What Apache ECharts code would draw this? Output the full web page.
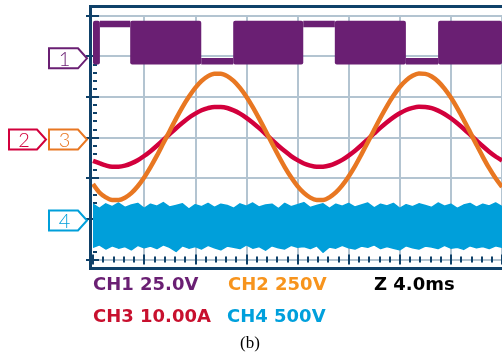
<!DOCTYPE html>
<html><head><meta charset="utf-8">
<script src="https://cdn.jsdelivr.net/npm/echarts@6/dist/echarts.min.js"></script>
<style>html,body{margin:0;padding:0;background:#fff}#c{width:502px;height:361px}</style>
</head><body><div id="c"></div>
<script>
// ---- data (time in ms, 4 ms/div) ----
const timeMs = [0,0.5,1,1.5,2,2.5,3,3.5,4,4.5,5,5.5,6,6.5,7,7.5,8,8.5,9,9.5,10,10.5,11,11.5,12,12.5,13,13.5,14,14.5,15,15.5,16,16.5,17,17.5,18,18.5,19,19.5,20,20.5,21,21.5,22,22.5,23,23.5,24,24.5,25,25.5,26,26.5,27,27.5,28,28.5,29,29.5,30,30.5,31,31.5,32];
const ch2Volts = [-290,-342,-372,-388,-388,-374,-346,-304,-250,-186,-116,-40,36,112,183,246,301,344,373,388,388,373,344,301,247,183,112,37,-40,-115,-186,-249,-303,-345,-374,-388,-388,-372,-342,-299,-244,-180,-108,-33,44,119,189,252,306,347,375,389,387,371,340,296,241,176,105,29,-48,-123,-193,-255,-308];
const ch3Amps = [-5.9,-6.48,-7.04,-7.36,-7.35,-7.10,-6.54,-5.76,-4.72,-3.53,-2.19,-0.77,0.69,2.12,3.45,4.68,5.69,6.52,7.06,7.36,7.34,7.08,6.50,5.71,4.67,3.47,2.12,0.69,-0.76,-2.19,-3.52,-4.73,-5.74,-6.55,-7.08,-7.37,-7.34,-7.06,-6.47,-5.67,-4.61,-3.41,-2.05,-0.62,0.83,2.25,3.58,4.79,5.78,6.59,7.10,7.38,7.33,7.04,6.44,5.62,4.56,3.34,1.98,0.55,-0.90,-2.32,-3.65,-4.84,-5.83];

const ch1Start = [0, 0.54, 2.91, 8.47, 10.97, 16.45, 18.92, 24.48, 27.0];
const ch1End   = [0.54, 2.91, 8.47, 10.97, 16.45, 18.92, 24.48, 27.0, 32];
const ch1State = ['switching','high','switching','low','switching','high','switching','low','switching'];
const ch1High = 21.2;
const ch1Low = -1.7;

const ch4Time = [0,0.5,1,1.5,2,2.5,3,3.5,4,4.5,5,5.5,6,6.5,7,7.5,8,8.5,9,9.5,10,10.5,11,11.5,12,12.5,13,13.5,14,14.5,15,15.5,16,16.5,17,17.5,18,18.5,19,19.5,20,20.5,21,21.5,22,22.5,23,23.5,24,24.5,25,25.5,26,26.5,27,27.5,28,28.5,29,29.5,30,30.5,31,31.5,32];
const ch4Upper = [200,150,205,170,215,160,190,210,150,200,
  175,220,165,185,205,140,195,170,210,160,
  200,185,150,205,175,215,165,190,200,145,
  210,170,195,220,160,185,205,150,200,175,
  210,165,190,215,155,200,180,210,150,195,
  170,205,185,160,215,175,200,150,190,210,
  165,200,180,215,170];
const ch4Lower = [-330,-300,-350,-310,-340,-320,-360,-305,-335,-315,
  -345,-300,-330,-380,-310,-340,-320,-350,-305,-335,
  -360,-315,-330,-345,-300,-340,-320,-365,-310,-335,
  -350,-305,-330,-320,-345,-310,-390,-325,-340,-305,
  -335,-350,-315,-330,-300,-345,-320,-340,-360,-310,
  -335,-350,-315,-325,-345,-305,-340,-330,-355,-310,
  -335,-320,-345,-310,-330];

const labelsRow1 = ['CH1 25.0V', 'CH2 250V', 'Z 4.0ms'];
const labelsRow2 = ['CH3 10.00A', 'CH4 500V'];
const caption = '(b)';
const markerNames = ['1','2','3','4'];

// ---- styling / layout ----
const C1 = '#6a1f73', C2 = '#e87722', C3 = '#d2003c', C4 = '#009fda';
const NAVY = '#0f4169', GRID = '#b3c4d1';
const DIVS = 6;
function ext(groundDiv, perDiv){ return {min: -groundDiv*perDiv, max: (DIVS-groundDiv)*perDiv}; }
const ax1 = ext(4.943, 25), ax2 = ext(3.017, 250), ax3 = ext(3.017, 10), ax4 = ext(0.959, 500);

const chart = echarts.init(document.getElementById('c'), null, {renderer:'canvas'});
const stateCode = {switching:0, high:1, low:2};

const tickStyle = {color: NAVY, width: 2};
function markerGraphic(x0, cy, w, color, txt){
  const h = 20, p = 9;
  return [{
    type:'polygon', z:100,
    shape:{points:[[x0,cy-h/2],[x0+w,cy-h/2],[x0+w+p,cy],[x0+w,cy+h/2],[x0,cy+h/2]]},
    style:{fill:'#fff', stroke:color, lineWidth:2}
  },{
    type:'text', z:101, x:x0+w/2+1, y:cy+1,
    style:{text:txt, fill:color, font:'300 20px Lato, "DejaVu Sans"', textAlign:'center', textVerticalAlign:'middle', align:'center', verticalAlign:'middle'}
  }];
}
function label(txt, x, y, color){
  return {type:'text', z:101, x:x, y:y,
    style:{text:txt, fill:color, font:'bold 18px "DejaVu Sans"', textVerticalAlign:'middle', verticalAlign:'middle'}};
}

const option = {
  animation:false,
  backgroundColor:'#fff',
  grid:{left:93, top:15.5, width:414.4, height:244},
  xAxis:[
    {type:'value', min:0, max:32, interval:4, position:'top', offset:8.5,
     axisLine:{show:false}, axisLabel:{show:false},
     axisTick:{show:true, inside:true, length:5, lineStyle:tickStyle},
     minorTick:{show:true, splitNumber:5, length:3, lineStyle:tickStyle},
     splitLine:{show:true, showMinLine:false, lineStyle:{color:GRID, width:2}}},
    {type:'value', min:0, max:32, interval:4, position:'bottom', offset:9,
     axisLine:{show:false}, axisLabel:{show:false},
     axisTick:{show:true, inside:true, length:5, lineStyle:tickStyle},
     minorTick:{show:true, splitNumber:5, length:3, lineStyle:tickStyle},
     splitLine:{show:false}}
  ],
  yAxis:[
    {type:'value', min:0, max:DIVS, interval:1, position:'left', offset:2.5,
     axisLine:{show:false}, axisLabel:{show:false},
     axisTick:{show:true, inside:true, length:6, lineStyle:tickStyle},
     minorTick:{show:true, splitNumber:5, length:4, lineStyle:tickStyle},
     splitLine:{show:true, lineStyle:{color:GRID, width:2}}},
    {type:'value', min:0, max:DIVS, interval:1, position:'right', offset:0,
     axisLine:{show:false}, axisLabel:{show:false},
     axisTick:{show:true, inside:true, length:7, lineStyle:tickStyle},
     splitLine:{show:false}},
    {type:'value', show:false, min:ax1.min, max:ax1.max},
    {type:'value', show:false, min:ax2.min, max:ax2.max},
    {type:'value', show:false, min:ax3.min, max:ax3.max},
    {type:'value', show:false, min:ax4.min, max:ax4.max}
  ],
  series:[
    {type:'custom', name:'CH1', xAxisIndex:0, yAxisIndex:2, z:3, clip:true,
     data: ch1Start.map((s,i)=>[s, ch1End[i], stateCode[ch1State[i]]]),
     encode:{x:[0,1]},
     renderItem:function(params, api){
       const s = api.value(0), e = api.value(1), st = api.value(2);
       const pH = api.coord([s, ch1High]), pL = api.coord([e, ch1Low]);
       const half = 3.25;
       let y0, y1;
       if (st === 0){ y0 = pH[1]-half; y1 = pL[1]+half; }
       else if (st === 1){ y0 = pH[1]-half; y1 = pH[1]+half; }
       else { y0 = pL[1]-half; y1 = pL[1]+half; }
       return {type:'rect', shape:{x:pH[0], y:y0, width:pL[0]-pH[0], height:y1-y0, r:st===0?2:0}, style:{fill:C1}};
     }},
    {type:'custom', name:'CH4', xAxisIndex:0, yAxisIndex:5, z:3, clip:true,
     data:[[0,0]],
     renderItem:function(params, api){
       const pts = [];
       for (let i=0;i<ch4Time.length;i++) pts.push(api.coord([ch4Time[i], ch4Upper[i]]));
       for (let i=ch4Time.length-1;i>=0;i--) pts.push(api.coord([ch4Time[i], ch4Lower[i]]));
       return {type:'polygon', shape:{points:pts}, style:{fill:C4, stroke:C4, lineWidth:1.5, lineJoin:'round'}};
     }},
    {type:'line', name:'CH3', xAxisIndex:0, yAxisIndex:4, z:4,
     data: timeMs.map((t,i)=>[t, ch3Amps[i]]), smooth:0.3, showSymbol:false, symbol:'none',
     lineStyle:{color:C3, width:4.5}},
    {type:'line', name:'CH2', xAxisIndex:0, yAxisIndex:3, z:5,
     data: timeMs.map((t,i)=>[t, ch2Volts[i]]), smooth:0.3, showSymbol:false, symbol:'none',
     lineStyle:{color:C2, width:4.5}}
  ],
  graphic:[
    {type:'rect', z:100, shape:{x:90.5, y:6.5, width:520, height:262},
     style:{fill:'none', stroke:NAVY, lineWidth:3}},
    ...markerGraphic(49, 58.3, 29, C1, markerNames[0]),
    ...markerGraphic(9, 139.5, 28, C3, markerNames[1]),
    ...markerGraphic(49, 139.5, 29, C2, markerNames[2]),
    ...markerGraphic(49, 220.5, 29, C4, markerNames[3]),
    label(labelsRow1[0], 93, 285, C1),
    label(labelsRow1[1], 228, 285, '#f7941d'),
    label(labelsRow1[2], 374, 285, '#000'),
    label(labelsRow2[0], 93, 317, '#c8102e'),
    label(labelsRow2[1], 227, 317, '#00a0dc'),
    {type:'text', z:101, x:250, y:344,
     style:{text:caption, fill:'#000', font:'17px "Liberation Serif"', textAlign:'center', textVerticalAlign:'middle', align:'center', verticalAlign:'middle'}}
  ]
};
chart.setOption(option);
</script>
</body></html>
